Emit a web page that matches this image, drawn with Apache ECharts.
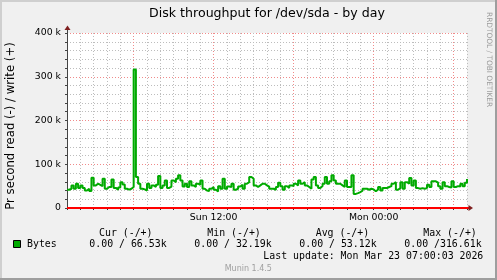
<!DOCTYPE html>
<html><head><meta charset="utf-8">
<script src="https://cdn.jsdelivr.net/npm/echarts@6/dist/echarts.min.js"></script>
<style>html,body{margin:0;padding:0;background:#F0F0F0;overflow:hidden}#c{width:497px;height:280px}</style>
</head><body><div id="c"></div>
<script>
// ---------- data ----------
const titleText = 'Disk throughput for /dev/sda - by day';
const yAxisTitle = 'Pr second read (-) / write (+)';
const startHour = 1;          // Sun 01:00 (hours since Sun 00:00)
const endHour = 31;           // Mon 07:00
const sampleStepHours = 1 / 6; // 10-minute samples
const xTickLabels = { 12: 'Sun 12:00', 24: 'Mon 00:00' };
const yTickLabels = { 0: '0', 100000: '100 k', 200000: '200 k', 300000: '300 k', 400000: '400 k' };
// write bytes per second, in thousands
const writeK = [
  41.7, 44, 51.7, 44, 55.5, 46, 51.7, 46, 40, 44, 38.7, 69, 51.7, 55.5, 53, 50, 67, 44, 48, 48,
  65, 46, 42, 47, 59, 54, 44, 42, 44, 48, 316.61, 71, 55.5, 44, 42.5, 40, 55.5, 46, 51.7, 48,
  53, 73, 45.5, 51.7, 63, 46, 49, 63, 59, 67, 74.6, 63, 49, 55.5, 48, 61, 51.7, 48, 55.5, 53,
  63, 44, 40, 38.7, 44, 48, 41.7, 38, 50, 44, 67, 44, 49, 48, 55.5, 41.7, 44, 49, 53, 44,
  55.5, 59, 71, 67, 51.7, 48, 51.7, 55.5, 55.5, 51.7, 49, 44, 44, 41.7, 48, 58, 50, 41.7, 50, 45.5,
  51.7, 50, 55.5, 51.7, 63, 55.5, 59, 51.7, 48, 44, 65, 71, 51.7, 45.5, 50, 55.5, 71, 55.5, 61, 74.6,
  63, 55.5, 55.5, 51.7, 48, 63, 48, 48, 74.6, 32.19, 34, 36.4, 39.4, 44, 44, 41.7, 44, 42.5, 38, 42.5,
  48, 40, 45.5, 45.5, 48, 50, 55.5, 59, 41.7, 45.5, 59, 44, 59, 55.5, 68.5, 51.7, 63, 45.5, 44, 45.5,
  44, 45.5, 53, 48, 61, 61, 58, 50, 44, 59, 50, 48, 47, 61, 48, 50, 49, 55.5, 50, 58,
  66.53
];
// read bytes per second, in thousands (all zero)
const readK = [
  0,0,0,0,0,0,0,0,0,0,0,0,0,0,0,0,0,0,0,0,0,0,0,0,0,0,0,0,0,0,
  0,0,0,0,0,0,0,0,0,0,0,0,0,0,0,0,0,0,0,0,0,0,0,0,0,0,0,0,0,0,
  0,0,0,0,0,0,0,0,0,0,0,0,0,0,0,0,0,0,0,0,0,0,0,0,0,0,0,0,0,0,
  0,0,0,0,0,0,0,0,0,0,0,0,0,0,0,0,0,0,0,0,0,0,0,0,0,0,0,0,0,0,
  0,0,0,0,0,0,0,0,0,0,0,0,0,0,0,0,0,0,0,0,0,0,0,0,0,0,0,0,0,0,
  0,0,0,0,0,0,0,0,0,0,0,0,0,0,0,0,0,0,0,0,0,0,0,0,0,0,0,0,0,0,
  0
];
const legendName = 'Bytes';
const statHeaders = ['Cur (-/+)', 'Min (-/+)', 'Avg (-/+)', 'Max (-/+)'];
const statValues = ['0.00 / 66.53k', '0.00 / 32.19k', '0.00 / 53.12k', '0.00 /316.61k'];
const lastUpdate = 'Last update: Mon Mar 23 07:00:03 2026';
const footerText = 'Munin 1.4.5';
const watermarkText = 'RRDTOOL / TOBI OETIKER';

// ---------- style ----------
const GREEN = '#00aa00';
const MINOR = '#bdbdbd';
const MAJOR = '#f08a8a';
const ARROW = '#7f1f1f';
const MONO = 'DejaVu Sans Mono';
const SANS = 'DejaVu Sans';

const writeData = writeK.map((v, i) => [startHour + i * sampleStepHours, v * 1000]);
const readData = readK.map((v, i) => [startHour + i * sampleStepHours, v * 1000]);

const chart = echarts.init(document.getElementById('c'), null, { renderer: 'canvas', width: 497, height: 280 });

const headerLefts = [99, 207.3, 315.7, 423.3];
const valueLefts = [89.3, 194.3, 299.3, 404.3];
const graphics = [];
// frame shading
graphics.push({ type: 'rect', shape: { x: 0, y: 0, width: 497, height: 2 }, style: { fill: '#CFCFCF' }, silent: true });
graphics.push({ type: 'rect', shape: { x: 0, y: 0, width: 2, height: 280 }, style: { fill: '#CFCFCF' }, silent: true });
graphics.push({ type: 'rect', shape: { x: 495, y: 0, width: 2, height: 280 }, style: { fill: '#9E9E9E' }, silent: true });
graphics.push({ type: 'rect', shape: { x: 0, y: 278, width: 497, height: 2 }, style: { fill: '#9E9E9E' }, silent: true });
// title
graphics.push({ type: 'text', x: 267, y: 13.5, style: { text: titleText, font: '12.6px "' + SANS + '"', fill: '#000', align: 'center', verticalAlign: 'middle' } });
// y axis title
graphics.push({ type: 'text', x: 10.5, y: 126, rotation: Math.PI / 2, style: { text: yAxisTitle, font: '11.7px "' + SANS + '"', fill: '#000', align: 'center', verticalAlign: 'middle' } });
// watermark
graphics.push({ type: 'text', x: 488.5, y: 12, rotation: -Math.PI / 2, style: { text: watermarkText, font: '7.4px "' + SANS + '"', fill: '#9a9a9a', align: 'left', verticalAlign: 'middle' } });
// legend
graphics.push({ type: 'rect', shape: { x: 13.5, y: 240.5, width: 7, height: 7 }, style: { fill: GREEN, stroke: '#000', lineWidth: 1 } });
graphics.push({ type: 'text', x: 27, y: 244.5, style: { text: legendName, font: '9.9px "' + MONO + '"', fill: '#000', align: 'left', verticalAlign: 'middle' } });
statHeaders.forEach((h, i) => {
  graphics.push({ type: 'text', x: headerLefts[i], y: 233, style: { text: h, font: '9.9px "' + MONO + '"', fill: '#000', align: 'left', verticalAlign: 'middle' } });
  graphics.push({ type: 'text', x: valueLefts[i], y: 244.5, style: { text: statValues[i], font: '9.9px "' + MONO + '"', fill: '#000', align: 'left', verticalAlign: 'middle' } });
});
graphics.push({ type: 'text', x: 483.3, y: 256.7, style: { text: lastUpdate, font: '9.9px "' + MONO + '"', fill: '#000', align: 'right', verticalAlign: 'middle' } });
graphics.push({ type: 'text', x: 248.3, y: 269, style: { text: footerText, font: '8px "' + SANS + '"', fill: '#a0a0a0', align: 'center', verticalAlign: 'middle' } });

const option = {
  backgroundColor: '#F0F0F0',
  animation: false,
  textStyle: { fontFamily: SANS },
  grid: { left: 67, right: 30, top: 33, bottom: 72, show: true, backgroundColor: '#ffffff', borderWidth: 0 },
  xAxis: {
    type: 'value', min: startHour, max: endHour, interval: 1,
    axisLine: { show: true, onZero: false, lineStyle: { color: '#333', width: 1 } },
    axisTick: { show: true, length: 2, lineStyle: { color: '#333' } },
    axisLabel: { formatter: v => xTickLabels[v] || '', color: '#000', fontSize: 9.33, fontFamily: SANS, margin: 5, showMinLabel: true, showMaxLabel: true, hideOverlap: false },
    splitLine: { show: true, lineStyle: { color: [MINOR, MINOR, MINOR, MINOR, MINOR, MAJOR], type: [1, 2], width: 1 } }
  },
  yAxis: {
    type: 'value', min: 0, max: 400000, interval: 20000,
    axisLine: { show: true, onZero: false, lineStyle: { color: '#444', width: 1 } },
    axisTick: { show: true, length: 2, lineStyle: { color: '#444' } },
    axisLabel: { formatter: v => (v in yTickLabels ? yTickLabels[v] : ''), color: '#000', fontSize: 9.33, fontFamily: SANS, margin: 6 },
    splitLine: { show: true, lineStyle: { color: [MAJOR, MINOR, MINOR, MINOR, MINOR], type: [1, 2], width: 1 } }
  },
  series: [
    { name: 'read', type: 'line', data: readData, showSymbol: false, lineStyle: { color: '#ff0000', width: 2 }, z: 2 },
    { name: 'write', type: 'line', data: writeData, step: 'end', showSymbol: false, lineStyle: { color: GREEN, width: 2 }, z: 3 }
  ],
  graphic: graphics
};
chart.setOption(option);

// axis arrow heads, positioned from the axis scales
const topLeft = chart.convertToPixel({ gridIndex: 0 }, [startHour, 400000]);
const bottomRight = chart.convertToPixel({ gridIndex: 0 }, [endHour, 0]);
const origin = chart.convertToPixel({ gridIndex: 0 }, [startHour, 0]);
const ax = Math.round(origin[0]) + 0.5;
chart.setOption({
  graphic: graphics.concat([
    { type: 'line', shape: { x1: ax, y1: topLeft[1], x2: ax, y2: topLeft[1] - 4 }, style: { stroke: '#444', lineWidth: 1 }, z: 10 },
    { type: 'polygon', shape: { points: [[ax - 3, topLeft[1] - 3], [ax + 3, topLeft[1] - 3], [ax, topLeft[1] - 7.5]] }, style: { fill: ARROW }, z: 10 },
    { type: 'line', shape: { x1: bottomRight[0], y1: bottomRight[1], x2: bottomRight[0] + 2, y2: bottomRight[1] }, style: { stroke: '#ff0000', lineWidth: 2 }, z: 10 },
    { type: 'polygon', shape: { points: [[bottomRight[0] + 1.5, bottomRight[1] - 3], [bottomRight[0] + 1.5, bottomRight[1] + 3], [bottomRight[0] + 6, bottomRight[1]]] }, style: { fill: ARROW }, z: 10 }
  ])
});
</script>
</body></html>
